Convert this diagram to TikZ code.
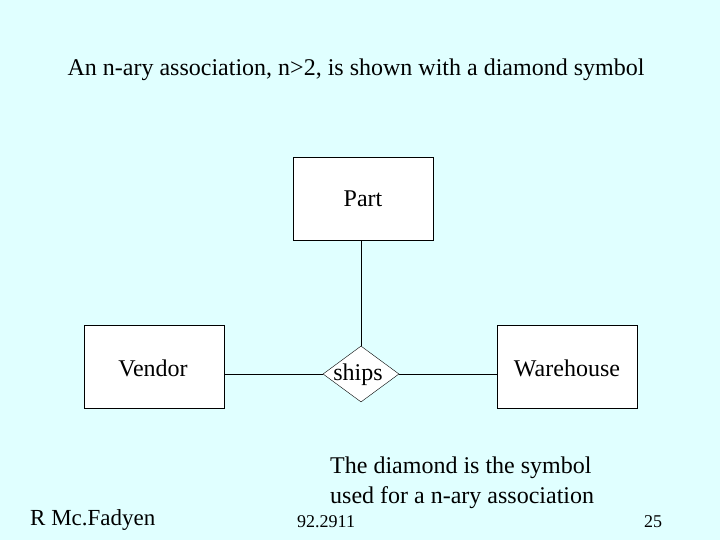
\documentclass[tikz,border=0pt]{standalone}
\usepackage{fontspec}
\setmainfont{Liberation Serif}
\usetikzlibrary{shapes.geometric}
\definecolor{bg}{RGB}{224,255,255}
\begin{document}
\begin{tikzpicture}[x=1pt,y=-1pt,
  ent/.style={draw=black,fill=white,minimum width=140pt,minimum height=83pt,inner sep=0pt},
  txt/.style={font=\fontsize{24}{28}\selectfont,inner sep=0pt},
  rel/.style={draw=black,fill=white,diamond,minimum width=76pt,minimum height=56pt,inner sep=0pt,aspect=1.36}]
\fill[bg] (0,0) rectangle (720,540);
\useasboundingbox (0,0) rectangle (720,540);
\node[txt] (title) at (356,70) {An n-ary association, n>2, is shown with a diamond symbol};
\node[ent] (part) at (363,198.5) {};
\node[txt] (partt) at (363,199) {Part};
\node[ent] (vendor) at (154,366.5) {};
\node[txt] (vendort) at (153,368) {Vendor};
\node[ent] (ware) at (567,366.5) {};
\node[txt] (waret) at (567,368) {Warehouse};
\node[rel] (ships) at (361,374) {};
\node[txt] (shipst) at (358,375) {ships};
\draw (part.south -| ships.north) -- (ships.north);
\draw (vendor.east |- ships.west) -- (ships.west);
\draw (ships.east) -- (ware.west |- ships.east);
\node[txt,anchor=west] (n1) at (330,468) {The diamond is the symbol};
\node[txt,anchor=west] (n2) at (330,498) {used for a n-ary association};
\node[anchor=west,inner sep=0pt,font=\fontsize{23}{26}\selectfont] (auth) at (30,520) {R Mc.Fadyen};
\node[anchor=west,inner sep=0pt,font=\fontsize{18}{20}\selectfont] (code) at (297,522) {92.2911};
\node[anchor=west,inner sep=0pt,font=\fontsize{18}{20}\selectfont] (pg) at (644,522) {25};
\end{tikzpicture}
\end{document}
